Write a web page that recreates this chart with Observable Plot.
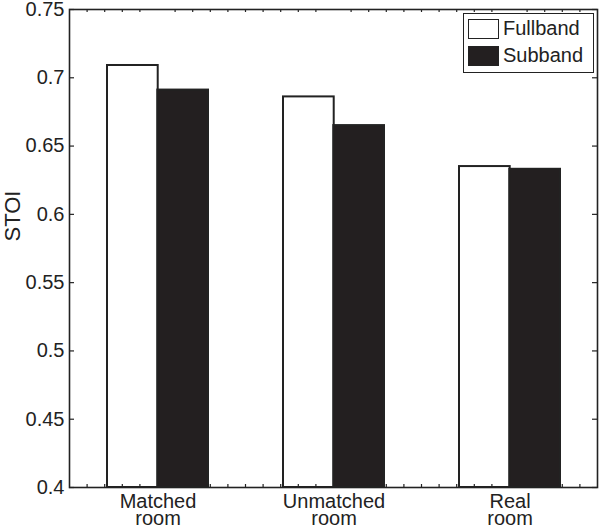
<!DOCTYPE html>
<html>
<head>
<meta charset="utf-8">
<script src="https://cdn.jsdelivr.net/npm/d3@7"></script>
<script src="https://cdn.jsdelivr.net/npm/@observablehq/plot@0.6"></script>
<style>
  html, body { margin: 0; padding: 0; background: #fff; }
  #wrap { position: relative; width: 600px; height: 530px; font-family: "Liberation Sans", Arial, sans-serif; }
  #wrap svg.overlay { position: absolute; left: 0; top: 0; pointer-events: none; }
  #legend { position: absolute; left: 463px; top: 13px; width: 129px; height: 58px; border: 1.5px solid #222; background: #fff; }
  .item { position: absolute; left: 4px; display: flex; align-items: center; font-size: 20px; color: #222; }
  .sw { width: 31px; height: 20px; box-sizing: border-box; border: 1.5px solid #222; margin-right: 4px; }
</style>
</head>
<body>
<div id="wrap"></div>
<script>
const categories = ["Matched\nroom", "Unmatched\nroom", "Real\nroom"];
const series = ["Fullband", "Subband"];
const fullband = [0.709, 0.686, 0.635];
const subband = [0.691, 0.665, 0.633];
const yTicks = [0.4, 0.45, 0.5, 0.55, 0.6, 0.65, 0.7, 0.75];
const yDomain = [0.4, 0.75];
const xMinorDomain = [0.5, 3.5];
const xMinorTicks = [0.6, 0.7, 0.8, 0.9, 1.1, 1.2, 1.3, 1.4, 1.5, 1.6, 1.7, 1.8, 1.9,
                     2.1, 2.2, 2.3, 2.4, 2.5, 2.6, 2.7, 2.8, 2.9, 3.1, 3.2, 3.3, 3.4];
const colors = {Fullband: "#ffffff", Subband: "#231f20"};

const rows = categories.flatMap((c, i) => [
  {category: c, series: "Fullband", value: fullband[i]},
  {category: c, series: "Subband", value: subband[i]}
]);

const W = 600, H = 530, mL = 69, mR = 3, mT = 9, mB = 43;
const innerW = W - mL - mR;
const innerH = H - mT - mB;
const pIn = 1 - 2 / 3.5;
const half = (innerW / 3) * (1 - pIn) / 2;
const ink = "#222";

const chart = Plot.plot({
  width: W,
  height: H,
  marginLeft: mL,
  marginRight: mR,
  marginTop: mT,
  marginBottom: mB,
  style: {fontFamily: "'Liberation Sans', Arial, sans-serif", fontSize: "20px", color: ink, background: "#fff"},
  x: {domain: categories, paddingInner: pIn, paddingOuter: pIn / 2, label: null},
  y: {domain: yDomain, clamp: true, label: null},
  marks: [
    Plot.barY(rows.filter(d => d.series === "Fullband"), {
      x: "category", y: "value", fill: d => colors[d.series], stroke: ink, strokeWidth: 2, insetRight: half
    }),
    Plot.barY(rows.filter(d => d.series === "Subband"), {
      x: "category", y: "value", fill: d => colors[d.series], stroke: ink, strokeWidth: 2, insetLeft: half
    }),
    Plot.tickY(yTicks, {y: d => d, stroke: ink, strokeWidth: 1.2, insetRight: innerW - 5}),
    Plot.tickY(yTicks, {y: d => d, stroke: ink, strokeWidth: 1.2, insetLeft: innerW - 5}),
    Plot.axisY({ticks: yTicks, tickSize: 0, tickPadding: 5, tickFormat: d => String(Math.round(d * 100) / 100), fontSize: 20, fill: ink, label: null}),
    Plot.axisX({tickSize: 0, tickPadding: 8, fontSize: 20, lineHeight: 0.85, fill: ink, label: null}),
    Plot.text(["STOI"], {frameAnchor: "left", text: d => d, rotate: -90, dx: -57, dy: -7, fontSize: 22, fill: ink}),
    Plot.frame({stroke: ink, strokeWidth: 1.6})
  ]
});

const overlay = Plot.plot({
  width: W,
  height: H,
  marginLeft: mL,
  marginRight: mR,
  marginTop: mT,
  marginBottom: mB,
  style: {background: "transparent"},
  x: {domain: xMinorDomain, axis: null},
  y: {domain: yDomain, axis: null},
  marks: [
    Plot.tickX(xMinorTicks, {x: d => d, stroke: ink, strokeWidth: 1.2, insetTop: innerH - 3}),
    Plot.tickX(xMinorTicks, {x: d => d, stroke: ink, strokeWidth: 1.2, insetBottom: innerH - 3})
  ]
});
overlay.classList.add("overlay");

const wrap = document.getElementById("wrap");
wrap.appendChild(chart);
wrap.appendChild(overlay);

const legend = document.createElement("div");
legend.id = "legend";
series.forEach((s, i) => {
  const item = document.createElement("div");
  item.className = "item";
  item.style.top = (3 + i * 27) + "px";
  const sw = document.createElement("div");
  sw.className = "sw";
  sw.style.background = colors[s];
  const t = document.createElement("span");
  t.textContent = s;
  item.appendChild(sw);
  item.appendChild(t);
  legend.appendChild(item);
});
wrap.appendChild(legend);
</script>
</body>
</html>
